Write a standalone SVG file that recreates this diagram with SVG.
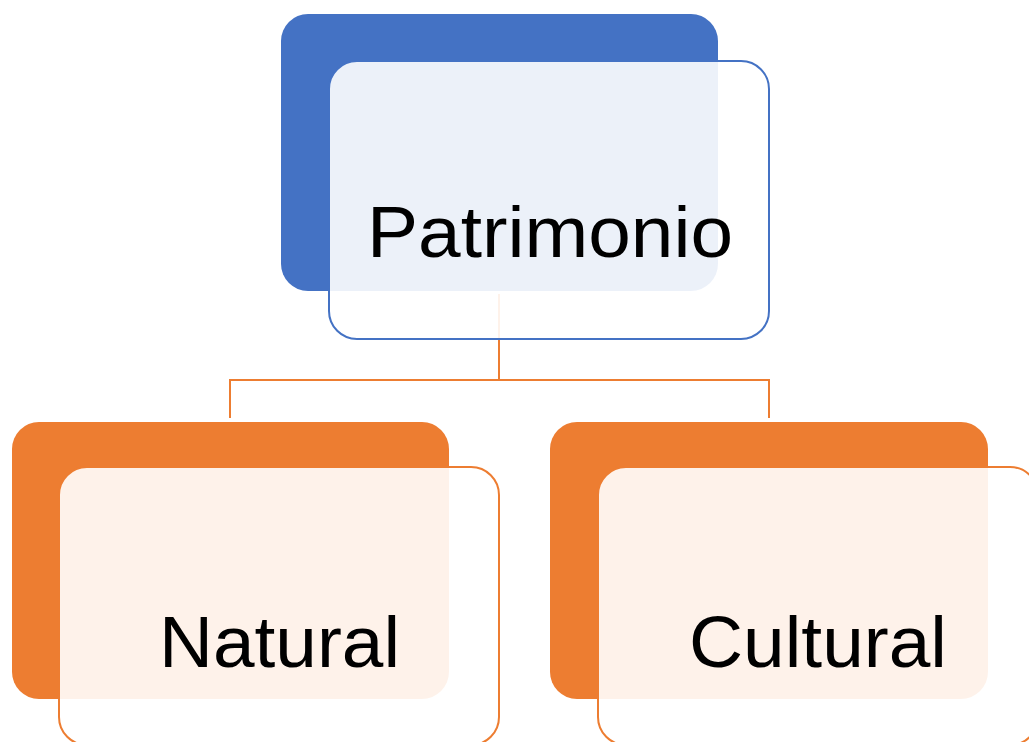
<svg xmlns="http://www.w3.org/2000/svg" width="1029" height="742" viewBox="0 0 1029 742">
<style>
.lbl{font-family:"Liberation Sans",Arial,sans-serif;font-size:73px;fill:#000}
.back-blue{fill:#4472C4}
.back-orange{fill:#ED7D31}
.front{fill:#FFFFFF;fill-opacity:0.9;stroke-width:2}
.conn{fill:none;stroke:#ED7D31;stroke-width:2}
</style>
<rect width="1029" height="742" fill="#FFFFFF"/>
<g id="connectors">
<path class="conn" d="M499,294 V380 M230,418 V380 H769 V418"/>
</g>
<g id="patrimonio">
<rect class="back-blue" x="281" y="14" width="437" height="277" rx="27"/>
<rect class="front" x="329" y="61" width="440" height="278" rx="28" stroke="#4472C4"/>
<text class="lbl" x="367" y="257" textLength="366" lengthAdjust="spacingAndGlyphs">Patrimonio</text>
</g>
<g id="natural">
<rect class="back-orange" x="12" y="422" width="437" height="277" rx="27"/>
<rect class="front" x="59" y="467" width="440" height="278" rx="28" stroke="#ED7D31"/>
<text class="lbl" x="159" y="667" textLength="241" lengthAdjust="spacingAndGlyphs">Natural</text>
</g>
<g id="cultural">
<rect class="back-orange" x="550" y="422" width="438" height="277" rx="27"/>
<rect class="front" x="598" y="467" width="440" height="278" rx="28" stroke="#ED7D31"/>
<text class="lbl" x="689" y="667" textLength="258" lengthAdjust="spacingAndGlyphs">Cultural</text>
</g>
</svg>
